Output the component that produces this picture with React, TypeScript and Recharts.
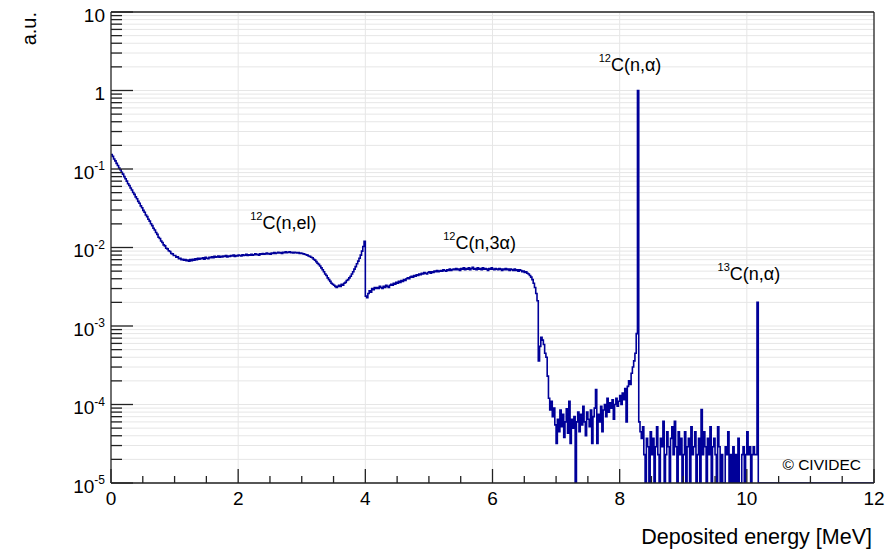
import React from 'react';
import { LineChart, Line, XAxis, YAxis, CartesianGrid, ReferenceLine, ReferenceDot } from 'recharts';

// ---------- data (histogram, bin width 0.02 MeV, from 0 to 12 MeV) ----------
const BIN_START = 0;
const BIN_WIDTH = 0.02;
const BIN_END = 12;

// 0 – 1.2 MeV
const countsLowE = [
  0.153, 0.145, 0.134, 0.127, 0.118, 0.111, 0.103, 0.098, 0.091, 0.086,
  0.080, 0.075, 0.070, 0.065, 0.0617, 0.0573, 0.0541, 0.0503, 0.0475, 0.0441,
  0.0417, 0.0387, 0.0366, 0.0339, 0.0321, 0.0297, 0.0281, 0.0260, 0.0247, 0.0229,
  0.0217, 0.0201, 0.0190, 0.0176, 0.0167, 0.0155, 0.0147, 0.0135, 0.0130, 0.0121,
  0.0116, 0.0108, 0.0105, 0.0098, 0.0096, 0.0091, 0.0089, 0.0084, 0.0083, 0.0079,
  0.0079, 0.0075, 0.0076, 0.0072, 0.0073, 0.0070, 0.0071, 0.0069, 0.0070, 0.0068,
];

// 1.2 – 4.0 MeV : 12C(n,el)
const countsElastic = [
  0.0069, 0.0067, 0.0070, 0.0068, 0.0071, 0.0069, 0.0072, 0.0070, 0.0073, 0.0071,
  0.0073, 0.0072, 0.0074, 0.0071, 0.0075, 0.0073, 0.0072, 0.0075, 0.0074, 0.0076,
  0.0074, 0.0077, 0.0075, 0.0076, 0.0078, 0.0075, 0.0077, 0.0076, 0.0078, 0.0077,
  0.0079, 0.0076, 0.0078, 0.0077, 0.0079, 0.0078, 0.0080, 0.0077, 0.0079, 0.0078,
  0.0080, 0.0079, 0.0078, 0.0081, 0.0079, 0.0080, 0.0082, 0.0079, 0.0081, 0.0080,
  0.0082, 0.0080, 0.0081, 0.0083, 0.0081, 0.0082, 0.0080, 0.0083, 0.0082, 0.0084,
  0.0082, 0.0083, 0.0085, 0.0083, 0.0084, 0.0082, 0.0085, 0.0084, 0.0086, 0.0084,
  0.0085, 0.0087, 0.0085, 0.0086, 0.0084, 0.0087, 0.0086, 0.0088, 0.0086, 0.0087,
  0.0088, 0.0086, 0.0087, 0.0085, 0.0087, 0.0086, 0.0085, 0.0086, 0.0084, 0.0085,
  0.0084, 0.0083, 0.0082, 0.0081, 0.0080, 0.0078, 0.0077, 0.0075, 0.0074, 0.0071,
  0.0069, 0.0066, 0.0063, 0.0061, 0.0058, 0.0055, 0.0052, 0.0049, 0.0046, 0.0044,
  0.0041, 0.0039, 0.0037, 0.0035, 0.0034, 0.0033, 0.0032, 0.0031, 0.0032, 0.0033,
  0.0032, 0.0034, 0.0033, 0.0035, 0.0036, 0.0038, 0.0039, 0.0041, 0.0043, 0.0046,
  0.0049, 0.0053, 0.0057, 0.0062, 0.0067, 0.0073, 0.0080, 0.0090, 0.0103, 0.0120,
];

// 4.0 – 7.0 MeV : 12C(n,3α)
const counts3Alpha = [
  0.0024, 0.0023, 0.0026, 0.0028, 0.0027, 0.0030, 0.0029, 0.0031, 0.0030, 0.0031,
  0.0030, 0.0032, 0.0031, 0.0030, 0.0032, 0.0031, 0.0033, 0.0032, 0.0031, 0.0033,
  0.0034, 0.0033, 0.0035, 0.0034, 0.0036, 0.0035, 0.0037, 0.0036, 0.0038, 0.0037,
  0.0039, 0.0038, 0.0040, 0.0041, 0.0040, 0.0042, 0.0043, 0.0042, 0.0044, 0.0043,
  0.0045, 0.0044, 0.0046, 0.0045, 0.0047, 0.0046, 0.0048, 0.0047, 0.0046, 0.0048,
  0.0049, 0.0047, 0.0049, 0.0048, 0.0050, 0.0049, 0.0051, 0.0049, 0.0050, 0.0051,
  0.0050, 0.0052, 0.0051, 0.0050, 0.0052, 0.0051, 0.0053, 0.0051, 0.0052, 0.0053,
  0.0052, 0.0054, 0.0052, 0.0053, 0.0051, 0.0054, 0.0053, 0.0055, 0.0052, 0.0054,
  0.0053, 0.0055, 0.0052, 0.0054, 0.0056, 0.0053, 0.0054, 0.0052, 0.0055, 0.0053,
  0.0054, 0.0052, 0.0055, 0.0053, 0.0054, 0.0053, 0.0051, 0.0054, 0.0053, 0.0055,
  0.0053, 0.0052, 0.0054, 0.0053, 0.0052, 0.0054, 0.0053, 0.0051, 0.0053, 0.0052,
  0.0054, 0.0052, 0.0053, 0.0051, 0.0053, 0.0052, 0.0051, 0.0053, 0.0051, 0.0052,
  0.0050, 0.0052, 0.0051, 0.0049, 0.0050, 0.0048, 0.0049, 0.0047, 0.0046, 0.0044,
  0.0042, 0.0039, 0.0035, 0.0031, 0.0026, 0.0021, 0.00036, 0.00055, 0.00072, 0.00066,
  0.00058, 0.00045, 0.00040, 0.00023, 0.00012, 8.5e-5, 1.1e-4, 7.0e-5, 9.0e-5, 5.5e-5,
];

// 7.0 – 10.2 MeV : 12C(n,α) and 13C(n,α)
const countsAlpha = [
  3.2e-5, 6.5e-5, 4.5e-5, 8.5e-5, 5.2e-5, 7.5e-5, 3.8e-5, 6.0e-5, 8.8e-5, 4.3e-5,
  1.1e-4, 3.2e-5, 6.5e-5, 5.0e-5, 7.0e-5, 1e-5, 6.0e-5, 8.0e-5, 4.5e-5, 7.5e-5,
  5.5e-5, 9.5e-5, 6.0e-5, 4.0e-5, 8.0e-5, 6.5e-5, 5.2e-5, 8.5e-5, 3.2e-5, 7.0e-5,
  9.0e-5, 1.55e-4, 3.2e-5, 7.5e-5, 6.0e-5, 9.5e-5, 4.5e-5, 8.5e-5, 1.0e-4, 7.0e-5,
  1.2e-4, 8.0e-5, 1.05e-4, 9.0e-5, 1.15e-4, 6.5e-5, 1.0e-4, 1.2e-4, 9.5e-5, 1.1e-4,
  1.3e-4, 1.0e-4, 1.4e-4, 1.15e-4, 1.6e-4, 6.0e-5, 1.7e-4, 2.0e-4, 1.8e-4, 2.5e-4,
  3.0e-4, 3.6e-4, 4.5e-4, 8.0e-4, 1.0, 6.0e-5, 4.5e-5, 3.7e-5, 5.2e-5, 2.3e-5,
  1e-5, 3.7e-5, 2.9e-5, 1e-5, 4.5e-5, 2.3e-5, 3.7e-5, 1e-5, 2.9e-5, 5.2e-5,
  2.3e-5, 1e-5, 3.7e-5, 2.9e-5, 6.1e-5, 1e-5, 2.3e-5, 4.5e-5, 2.9e-5, 1e-5,
  3.7e-5, 5.2e-5, 2.3e-5, 6.1e-5, 2.9e-5, 1e-5, 4.5e-5, 2.3e-5, 3.7e-5, 1e-5,
  2.3e-5, 4.5e-5, 1e-5, 2.9e-5, 3.7e-5, 1e-5, 5.2e-5, 2.3e-5, 2.9e-5, 4.5e-5,
  1e-5, 2.3e-5, 3.7e-5, 1e-5, 8.6e-5, 2.3e-5, 4.5e-5, 2.9e-5, 1e-5, 3.7e-5,
  2.3e-5, 5.2e-5, 1e-5, 2.9e-5, 3.7e-5, 2.3e-5, 1e-5, 5.2e-5, 2.9e-5, 1e-5,
  2.3e-5, 1e-5, 1e-5, 2.9e-5, 2.3e-5, 4.5e-5, 1e-5, 2.3e-5, 1e-5, 2.9e-5,
  1e-5, 2.3e-5, 1e-5, 3.7e-5, 1e-5, 1e-5, 2.3e-5, 2.9e-5, 1e-5, 2.3e-5,
  4.5e-5, 2.3e-5, 2.9e-5, 1e-5, 2.3e-5, 2.9e-5, 2.3e-5, 2.3e-5, 2.0e-3, 1e-5,
];

// 10.2 – 12 MeV : empty bins (drawn on the 1e-5 floor)
const countsEmpty = [
  1e-5, 1e-5, 1e-5, 1e-5, 1e-5, 1e-5, 1e-5, 1e-5, 1e-5, 1e-5,
  1e-5, 1e-5, 1e-5, 1e-5, 1e-5, 1e-5, 1e-5, 1e-5, 1e-5, 1e-5,
  1e-5, 1e-5, 1e-5, 1e-5, 1e-5, 1e-5, 1e-5, 1e-5, 1e-5, 1e-5,
  1e-5, 1e-5, 1e-5, 1e-5, 1e-5, 1e-5, 1e-5, 1e-5, 1e-5, 1e-5,
  1e-5, 1e-5, 1e-5, 1e-5, 1e-5, 1e-5, 1e-5, 1e-5, 1e-5, 1e-5,
  1e-5, 1e-5, 1e-5, 1e-5, 1e-5, 1e-5, 1e-5, 1e-5, 1e-5, 1e-5,
  1e-5, 1e-5, 1e-5, 1e-5, 1e-5, 1e-5, 1e-5, 1e-5, 1e-5, 1e-5,
  1e-5, 1e-5, 1e-5, 1e-5, 1e-5, 1e-5, 1e-5, 1e-5, 1e-5, 1e-5,
  1e-5, 1e-5, 1e-5, 1e-5, 1e-5, 1e-5, 1e-5, 1e-5, 1e-5, 1e-5,
];

// axis ticks and labels
const xMajorTicks = [0, 2, 4, 6, 8, 10, 12];
const xTickLabels = ['0', '2', '4', '6', '8', '10', '12'];
const xMinorStep = 0.5;

const yMajorTicks = [1e-5, 1e-4, 1e-3, 1e-2, 1e-1, 1, 10];
const yTickBase = ['10', '10', '10', '10', '10', '1', '10'];
const yTickExp = ['-5', '-4', '-3', '-2', '-1', '', ''];
const yMinorMultipliers = [2, 3, 4, 5, 6, 7, 8, 9];

const xTitle = 'Deposited energy [MeV]';
const yTitle = 'a.u.';

const annotations = [
  { sup: '12', text: 'C(n,el)', e: 2.19, v: 0.0171 },
  { sup: '12', text: 'C(n,3\u03b1)', e: 5.225, v: 0.0095 },
  { sup: '12', text: 'C(n,\u03b1)', e: 7.67, v: 1.79 },
  { sup: '13', text: 'C(n,\u03b1)', e: 9.54, v: 0.0038 },
];
const copyright = { text: '\u00a9 CIVIDEC', e: 10.56, v: 1.45e-5 };

// ---------- derived ----------
const counts = [...countsLowE, ...countsElastic, ...counts3Alpha, ...countsAlpha, ...countsEmpty];
const chartData = counts.map((c, i) => ({ e: Math.round((BIN_START + i * BIN_WIDTH) * 1000) / 1000, c }));
chartData.push({ e: BIN_END, c: counts[counts.length - 1] });

const xTicks: number[] = [];
for (let t = xMajorTicks[0]; t <= xMajorTicks[xMajorTicks.length - 1] + 1e-9; t += xMinorStep) xTicks.push(t);

const yTicks: number[] = [];
yMajorTicks.forEach((d, i) => {
  yTicks.push(d);
  if (i < yMajorTicks.length - 1) yMinorMultipliers.forEach((m) => yTicks.push(d * m));
});

// ---------- style ----------
const FONT = '"Liberation Sans", Arial, Helvetica, sans-serif';
const AXIS = '#222';
const GRID = '#e6e6e6';
const LINE = '#000099';

const XTick = (props: any) => {
  const { x, y, payload } = props;
  const idx = xMajorTicks.indexOf(payload.value);
  const major = idx >= 0;
  return (
    <g>
      <line x1={x} y1={y} x2={x} y2={y - (major ? 14 : 7)} stroke={AXIS} strokeWidth={1.3} />
      {major && (
        <text x={x} y={y + 21.7} textAnchor="middle" fontFamily={FONT} fontSize={19} fill="#000">
          {xTickLabels[idx]}
        </text>
      )}
    </g>
  );
};

const YTick = (props: any) => {
  const { x, y, payload } = props;
  const idx = yMajorTicks.findIndex((t) => Math.abs(Math.log10(t) - Math.log10(payload.value)) < 1e-6);
  const major = idx >= 0;
  return (
    <g>
      <line x1={x} y1={y} x2={x + (major ? 22 : 11)} y2={y} stroke={AXIS} strokeWidth={1.3} />
      {major && (
        <text x={x - 6} y={y + 9.5} textAnchor="end" fontFamily={FONT} fontSize={19} fill="#000">
          {yTickBase[idx]}
          {yTickExp[idx] && (
            <tspan dy={-8.5} fontSize={12}>
              {yTickExp[idx]}
            </tspan>
          )}
        </text>
      )}
    </g>
  );
};

const AnnotText = ({ cx, cy, sup, text }: any) => (
  <text x={cx} y={cy} fontFamily={FONT} fill="#000">
    <tspan fontSize={11} dy={-9}>
      {sup}
    </tspan>
    <tspan fontSize={18} dy={9}>
      {text}
    </tspan>
  </text>
);

export default function App() {
  return (
    <div style={{ position: 'absolute', left: 0, top: 0 }}>
      <LineChart width={894} height={550} data={chartData} margin={{ top: 12, right: 20, bottom: 0, left: 0 }}>
        <CartesianGrid vertical={false} stroke={GRID} strokeWidth={1} />
        {xMajorTicks.slice(1, -1).map((t) => (
          <ReferenceLine key={'vg' + t} x={t} stroke={GRID} strokeWidth={1} />
        ))}
        <XAxis
          dataKey="e"
          type="number"
          domain={[xMajorTicks[0], xMajorTicks[xMajorTicks.length - 1]]}
          ticks={xTicks}
          interval={0}
          allowDataOverflow
          height={67}
          tickSize={0}
          tickMargin={0}
          tickLine={false}
          axisLine={{ stroke: AXIS, strokeWidth: 1.3 }}
          tick={(p: any) => <XTick {...p} />}
          label={{
            content: (p: any) => {
              const vb = p.viewBox || {};
              return (
                <text x={vb.x + vb.width - 2} y={vb.y + 61} textAnchor="end" fontFamily={FONT} fontSize={21.5} fill="#000">
                  {xTitle}
                </text>
              );
            },
          }}
        />
        <YAxis
          type="number"
          scale="log"
          domain={[yMajorTicks[0], yMajorTicks[yMajorTicks.length - 1]]}
          ticks={yTicks}
          interval={0}
          allowDataOverflow
          width={111}
          tickSize={0}
          tickMargin={0}
          tickLine={false}
          axisLine={{ stroke: AXIS, strokeWidth: 1.3 }}
          tick={(p: any) => <YTick {...p} />}
          label={{
            content: (p: any) => {
              const vb = p.viewBox || {};
              const tx = vb.x + 36;
              const ty = vb.y;
              return (
                <text x={tx} y={ty} transform={`rotate(-90 ${tx} ${ty})`} textAnchor="end" fontFamily={FONT} fontSize={20} fill="#000">
                  {yTitle}
                </text>
              );
            },
          }}
        />
        <ReferenceLine y={yMajorTicks[yMajorTicks.length - 1]} stroke={AXIS} strokeWidth={1.3} />
        <ReferenceLine x={xMajorTicks[xMajorTicks.length - 1]} stroke={AXIS} strokeWidth={1.3} />
        <Line
          type="stepAfter"
          dataKey="c"
          stroke={LINE}
          strokeWidth={1.6}
          dot={false}
          activeDot={false}
          isAnimationActive={false}
        />
        {annotations.map((a, i) => (
          <ReferenceDot
            key={'an' + i}
            x={a.e}
            y={a.v}
            r={0}
            ifOverflow="visible"
            shape={(p: any) => <AnnotText cx={p.cx} cy={p.cy} sup={a.sup} text={a.text} />}
          />
        ))}
        <ReferenceDot
          x={copyright.e}
          y={copyright.v}
          r={0}
          ifOverflow="visible"
          shape={(p: any) => (
            <text x={p.cx} y={p.cy} fontFamily={FONT} fontSize={15.5} fill="#000">
              {copyright.text}
            </text>
          )}
        />
      </LineChart>
    </div>
  );
}
